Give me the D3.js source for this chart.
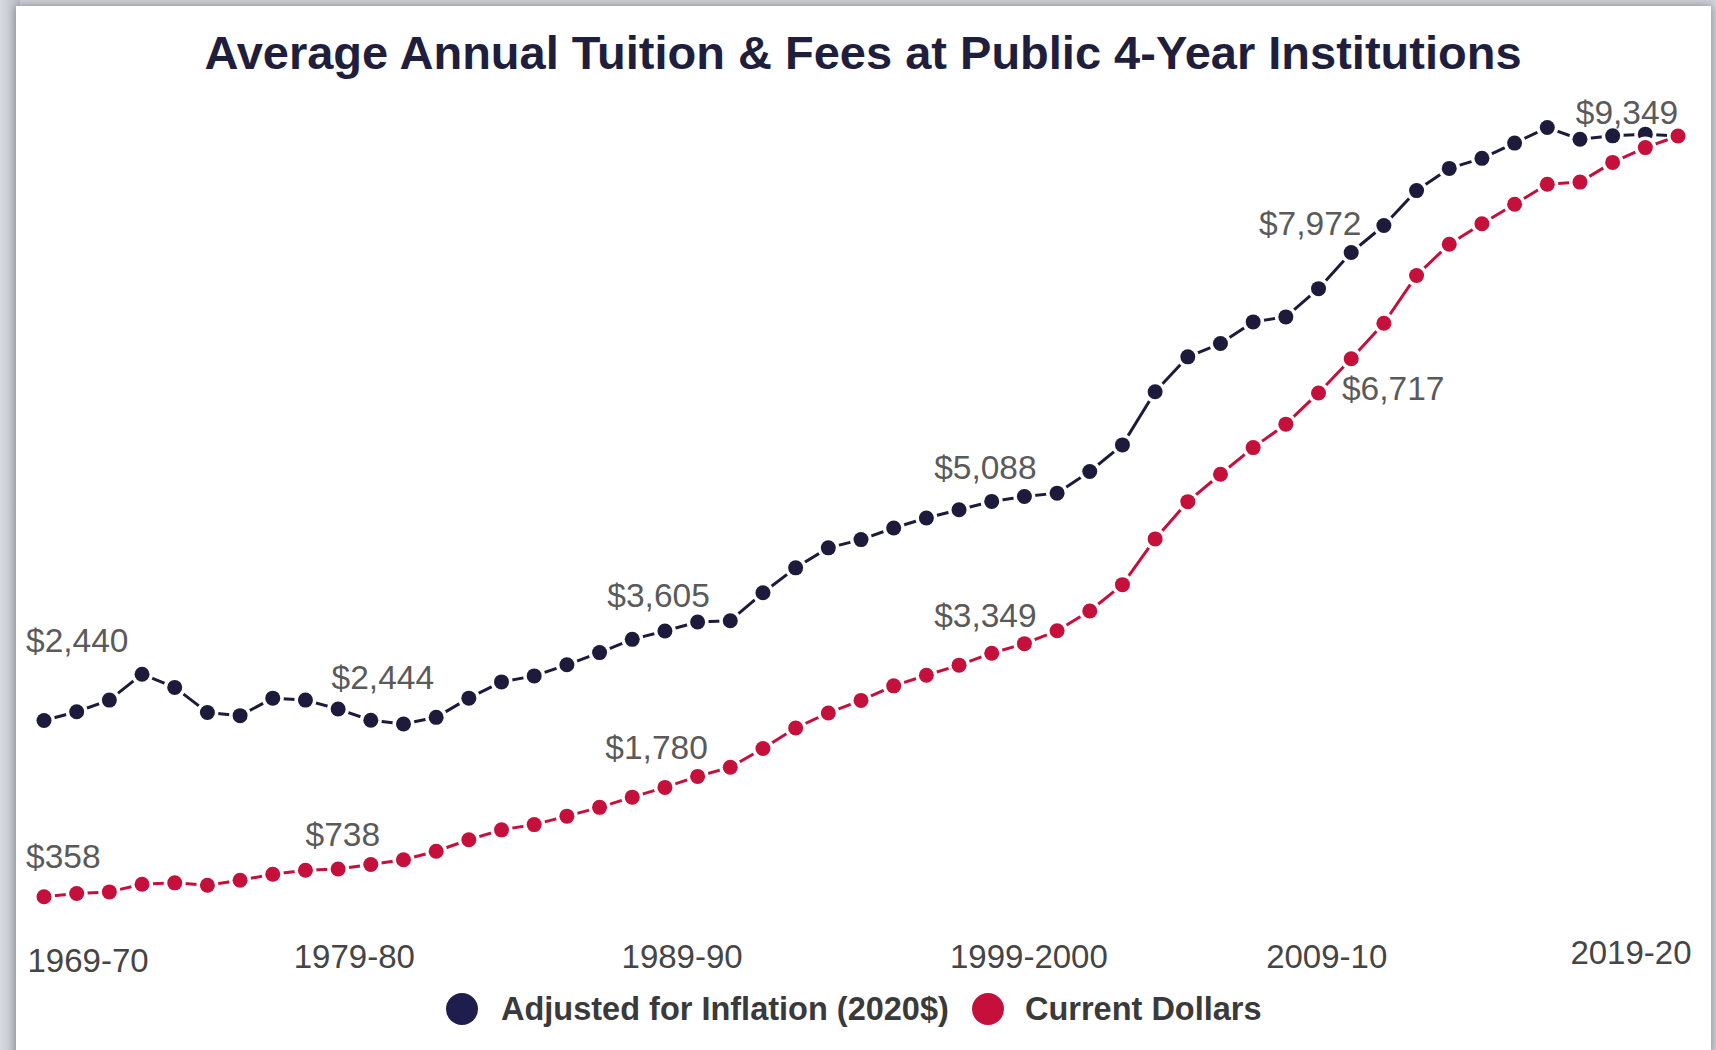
<!DOCTYPE html>
<html>
<head>
<meta charset="utf-8">
<script src="https://cdn.jsdelivr.net/npm/d3@7"></script>
<style>
  html, body { margin: 0; padding: 0; background: #c9ccd2; }
  svg { display: block; }
  text { font-family: "Liberation Sans", Arial, Helvetica, sans-serif; }
</style>
</head>
<body>
<svg id="chart" width="1716" height="1050"></svg>
<script>
// ---------- DATA ----------
const categories = [
  "1969-70","1970-71","1971-72","1972-73","1973-74","1974-75","1975-76","1976-77","1977-78","1978-79",
  "1979-80","1980-81","1981-82","1982-83","1983-84","1984-85","1985-86","1986-87","1987-88","1988-89",
  "1989-90","1990-91","1991-92","1992-93","1993-94","1994-95","1995-96","1996-97","1997-98","1998-99",
  "1999-2000","2000-01","2001-02","2002-03","2003-04","2004-05","2005-06","2006-07","2007-08","2008-09",
  "2009-10","2010-11","2011-12","2012-13","2013-14","2014-15","2015-16","2016-17","2017-18","2018-19",
  "2019-20"
];

// Adjusted for inflation (2020$)
const adjustedValues = [
  2440, 2544, 2682, 2988, 2832, 2536, 2498, 2705, 2682, 2576,
  2444, 2400, 2478, 2705, 2897, 2968, 3099, 3243, 3400, 3498,
  3605, 3620, 3950, 4245, 4481, 4579, 4716, 4834, 4932, 5030,
  5088, 5128, 5384, 5698, 6326, 6739, 6896, 7152, 7211, 7545,
  7972, 8291, 8704, 8966, 9085, 9265, 9449, 9311, 9351, 9371,
  9349
];

// Current dollars
const currentValues = [
  358, 396, 415, 505, 522, 494, 553, 624, 670, 685,
  738, 795, 895, 1031, 1148, 1210, 1310, 1414, 1535, 1650,
  1780, 1888, 2110, 2352, 2530, 2678, 2850, 2975, 3095, 3236,
  3349, 3501, 3735, 4046, 4587, 5027, 5351, 5666, 5943, 6312,
  6717, 7136, 7701, 8070, 8312, 8543, 8778, 8804, 9037, 9212,
  9349
];

const tickLabels = ["1969-70", "1979-80", "1989-90", "1999-2000", "2009-10", "2019-20"];
const adjustedLabelled = ["1969-70", "1979-80", "1989-90", "1999-2000", "2009-10"];
const currentLabelled = ["1969-70", "1979-80", "1989-90", "1999-2000", "2009-10", "2019-20"];

const seriesNames = ["Adjusted for Inflation (2020$)", "Current Dollars"];
const titleText = "Average Annual Tuition & Fees at Public 4-Year Institutions";

// ---------- LAYOUT / STYLE ----------
const W = 1716, H = 1050;
const navy = "#1d1b3c";
const navyLegend = "#1f1d4e";
const red = "#c4103a";
const labelColor = "#5a5a5a";

const svg = d3.select("#chart");
const defs = svg.append("defs");
const f = defs.append("filter").attr("id", "shadow").attr("x", "-5%").attr("y", "-5%").attr("width", "110%").attr("height", "110%");
f.append("feDropShadow").attr("dx", 0).attr("dy", 0).attr("stdDeviation", 5).attr("flood-color", "#6b6f78").attr("flood-opacity", 0.8);

const lg = defs.append("linearGradient").attr("id", "leftbg").attr("x1", 0).attr("x2", 1);
lg.append("stop").attr("offset", "0%").attr("stop-color", "#d8dbe2");
lg.append("stop").attr("offset", "100%").attr("stop-color", "#b9bcc4");

svg.append("rect").attr("width", W).attr("height", H).attr("fill", "#cfd2d8");
svg.append("rect").attr("width", 20).attr("height", H).attr("fill", "url(#leftbg)");
svg.append("rect").attr("x", 16).attr("y", 6).attr("width", 1695).attr("height", H)
  .attr("fill", "#ffffff").attr("filter", "url(#shadow)");

// Title
svg.append("text")
  .attr("x", 863).attr("y", 69)
  .attr("text-anchor", "middle")
  .attr("font-size", 47).attr("font-weight", "bold")
  .attr("fill", "#1f1f3d")
  .text(titleText);

// Scales
const x = d3.scalePoint().domain(categories).range([44, 1678]);
const y = d3.scaleLinear().domain([0, 9349]).range([927, 136]);

// Axis
const axisG = svg.append("g").attr("transform", "translate(0,968)")
  .call(d3.axisBottom(x).tickValues(tickLabels).tickSize(0).tickPadding(0));
axisG.select(".domain").remove();
const tickAdj = {
  "1969-70":   { anchor: "start",  dx: -17, dy: 4 },
  "1979-80":   { anchor: "middle", dx: -17, dy: 0 },
  "1989-90":   { anchor: "middle", dx: -16, dy: 0 },
  "1999-2000": { anchor: "middle", dx: 4,   dy: 0 },
  "2009-10":   { anchor: "middle", dx: -25, dy: 0 },
  "2019-20":   { anchor: "end",    dx: 13,  dy: -4 }
};
axisG.selectAll(".tick text")
  .attr("font-family", "Liberation Sans, Arial, sans-serif")
  .attr("font-size", 33)
  .attr("fill", "#454545")
  .attr("y", 0)
  .attr("dy", d => tickAdj[d].dy)
  .attr("dx", d => tickAdj[d].dx)
  .attr("text-anchor", d => tickAdj[d].anchor);

// Series
const series = [
  { name: seriesNames[0], values: adjustedValues, color: navy, labelled: adjustedLabelled },
  { name: seriesNames[1], values: currentValues, color: red, labelled: currentLabelled }
];

const line = d3.line()
  .x((d, i) => x(categories[i]))
  .y(d => y(d));

series.forEach(s => {
  const g = svg.append("g");
  g.append("path")
    .attr("d", line(s.values))
    .attr("fill", "none")
    .attr("stroke", s.color)
    .attr("stroke-width", 3)
    .attr("stroke-linejoin", "round");
  g.selectAll("circle.halo").data(s.values).join("circle")
    .attr("class", "halo")
    .attr("cx", (d, i) => x(categories[i]))
    .attr("cy", d => y(d))
    .attr("r", 11)
    .attr("fill", "#ffffff");
  g.selectAll("circle.dot").data(s.values).join("circle")
    .attr("class", "dot")
    .attr("cx", (d, i) => x(categories[i]))
    .attr("cy", d => y(d))
    .attr("r", 7.5)
    .attr("fill", s.color);
});

// Value labels
const fmt = d3.format("$,");
const labelOffsets = [
  // adjusted series
  [ { anchor: "start", dx: -18, dy: -69 }, { anchor: "middle", dx: 12, dy: -31 },
    { anchor: "middle", dx: -39, dy: -15 }, { anchor: "middle", dx: -39, dy: -18 },
    { anchor: "middle", dx: -41, dy: -18 } ],
  // current series
  [ { anchor: "start", dx: -18, dy: -29 }, { anchor: "middle", dx: -28, dy: -19 },
    { anchor: "middle", dx: -41, dy: -17 }, { anchor: "middle", dx: -39, dy: -17 },
    { anchor: "middle", dx: 42, dy: 41 }, { anchor: "middle", dx: -51, dy: -12 } ]
];
series.forEach((s, si) => {
  s.labelled.forEach((cat, li) => {
    const idx = categories.indexOf(cat);
    const v = s.values[idx];
    const o = labelOffsets[si][li];
    svg.append("text")
      .attr("x", x(cat) + o.dx)
      .attr("y", y(v) + o.dy)
      .attr("text-anchor", o.anchor)
      .attr("font-size", 33.5)
      .attr("fill", labelColor)
      .text(fmt(v));
  });
});

// Legend
const legend = svg.append("g");
const legendItems = [
  { name: seriesNames[0], color: navyLegend, cx: 462, tx: 501 },
  { name: seriesNames[1], color: red, cx: 988, tx: 1025 }
];
legendItems.forEach(it => {
  legend.append("circle").attr("cx", it.cx).attr("cy", 1009).attr("r", 16).attr("fill", it.color);
  legend.append("text").attr("x", it.tx).attr("y", 1020)
    .attr("font-size", 32.5).attr("font-weight", "bold").attr("fill", "#3a3a3a")
    .text(it.name);
});
</script>
</body>
</html>
